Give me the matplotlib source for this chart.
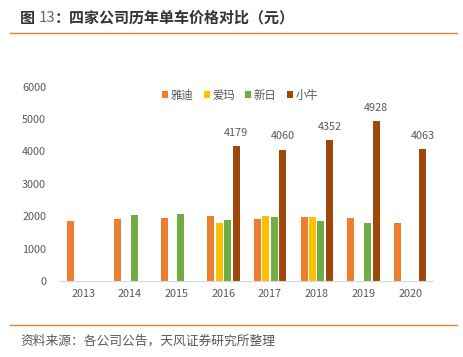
import numpy as np
import matplotlib
matplotlib.use('Agg')
from matplotlib import pyplot as plt

plt.rcParams['font.family'] = ['Noto Sans CJK SC', 'DejaVu Sans']

years = ['2013', '2014', '2015', '2016', '2017', '2018', '2019', '2020']
brands = ['雅迪', '爱玛', '新日', '小牛']
yadi = [1850, 1920, 1935, 2005, 1925, 1965, 1955, 1790]
aima = [np.nan, np.nan, np.nan, 1790, 1995, 1965, np.nan, np.nan]
xinri = [np.nan, 2050, 2060, 1875, 1975, 1850, 1790, np.nan]
niu = [np.nan, np.nan, np.nan, 4179, 4060, 4352, 4928, 4063]
colors = ['#ED7D31', '#FFC000', '#70AD47', '#9E480E']

fig = plt.figure(figsize=(4.64, 3.57), dpi=100)
ax = fig.add_axes([60/464, 1-281/357, (433.4-60)/464, (281-86.7)/357])

x = np.arange(len(years))
step = 0.181
width = 0.15
series = [yadi, aima, xinri, niu]
for i, (vals, c, name) in enumerate(zip(series, colors, brands)):
    ax.bar(x + (i - 1.5)*step, vals, width, color=c, label=name)
    if name == '小牛':
        for xi, v in zip(x, vals):
            if not np.isnan(v):
                ax.text(xi + (i - 1.5)*step, v + 250, str(v), ha='center', va='bottom',
                        fontsize=7.8, color='#595959')

ax.set_xlim(-0.5, 7.5)
ax.set_ylim(0, 6000)
ax.set_yticks(range(0, 6001, 1000))
ax.set_xticks(x)
ax.set_xticklabels(years)
ax.tick_params(length=0, labelsize=7.8, labelcolor='#595959')
ax.tick_params(axis='y', pad=10)
ax.tick_params(axis='x', pad=6)
for s in ['top', 'right', 'left']:
    ax.spines[s].set_visible(False)
ax.spines['bottom'].set_color('#D9D9D9')

leg = ax.legend(loc='center', bbox_to_anchor=(240/464, 1-95/357), bbox_transform=fig.transFigure,
                ncol=4, frameon=False, fontsize=8.2, handlelength=0.55, handleheight=0.55,
                handletextpad=0.2, columnspacing=0.9)
for t in leg.get_texts():
    t.set_color('#595959')

# title
fig.canvas.draw()
r = fig.canvas.get_renderer()
ty = 1-18/357
t1 = fig.text(20/464, ty, '图 ', fontsize=10.8, fontweight='bold', color='#333333', va='center')
bb = t1.get_window_extent(r)
t2 = fig.text(bb.x1/464, ty, '13', fontsize=10.8, color='#4E6E8E', va='center')
bb = t2.get_window_extent(r)
fig.text(bb.x1/464, ty, '：四家公司历年单车价格对比（元）', fontsize=10.8, fontweight='bold',
         color='#333333', va='center')

fig.add_artist(plt.Line2D([10/464, 457/464], [1-33/357, 1-33/357], color='#ED7D31', lw=1))
fig.add_artist(plt.Line2D([10/464, 457/464], [1-325/357, 1-325/357], color='#ED7D31', lw=1))
fig.text(20/464, 1-341/357, '资料来源：各公司公告，天风证券研究所整理', fontsize=9.2,
         color='#595959', va='center')

fig.savefig('out.png', dpi=100)
